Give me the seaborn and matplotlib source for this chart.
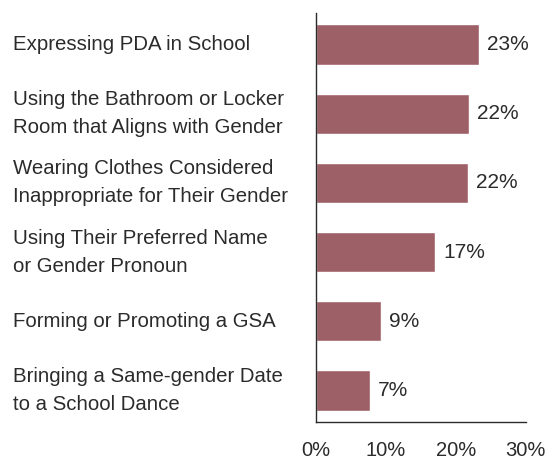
import matplotlib
matplotlib.use("Agg")
import matplotlib.pyplot as plt
import matplotlib.transforms as mtransforms
import pandas as pd
import seaborn as sns

# Data
categories = [
    "Expressing PDA in School",
    "Using the Bathroom or Locker\nRoom that Aligns with Gender",
    "Wearing Clothes Considered\nInappropriate for Their Gender",
    "Using Their Preferred Name\nor Gender Pronoun",
    "Forming or Promoting a GSA",
    "Bringing a Same-gender Date\nto a School Dance",
]
values = [23.3, 21.9, 21.7, 17.0, 9.3, 7.7]
value_labels = ["23%", "22%", "22%", "17%", "9%", "7%"]
x_ticks = [0, 10, 20, 30]
x_tick_labels = ["0%", "10%", "20%", "30%"]

bar_color = "#9E6067"
text_color = "#2B2B2B"

df = pd.DataFrame({"category": categories, "value": values})

sns.set_style("white")
plt.rcParams["font.family"] = ["Liberation Sans", "DejaVu Sans"]

fig = plt.figure(figsize=(5.58, 4.61), dpi=100)
ax = fig.add_axes([316 / 558, 1 - 422 / 461, (525.7 - 316) / 558, (422 - 13) / 461])

sns.barplot(data=df, x="value", y="category", orient="h", color=bar_color,
            width=0.58, saturation=1, ax=ax)

ax.set_xlim(0, 30)
ax.set_ylim(5.455, -0.455)
ax.set_xlabel("")
ax.set_ylabel("")

# axis styling
for side in ["top", "right"]:
    ax.spines[side].set_visible(False)
for side in ["left", "bottom"]:
    ax.spines[side].set_color(text_color)
    ax.spines[side].set_linewidth(1.0)

ax.set_xticks(x_ticks)
ax.set_xticklabels(x_tick_labels, fontsize=14.5, color=text_color)
ax.tick_params(axis="x", direction="out", length=8, width=1.0, color=text_color, pad=6)

ax.set_yticks(list(ax.get_ylim()))
ax.set_yticklabels([])
ax.tick_params(axis="y", direction="out", length=4, width=1.0, color=text_color)

# category labels, left aligned at the left edge of the figure
trans = mtransforms.blended_transform_factory(fig.transFigure, ax.transData)
for i, cat in enumerate(categories):
    ax.text(13 / 558, i, cat, transform=trans, ha="left", va="center",
            fontsize=14.7, color=text_color, linespacing=1.6, clip_on=False)

# value labels
for i, (v, lab) in enumerate(zip(values, value_labels)):
    ax.annotate(lab, xy=(v, i), xytext=(6, 0), textcoords="offset points",
                ha="left", va="center", fontsize=15, color=text_color)

fig.savefig("out.png", dpi=100)
